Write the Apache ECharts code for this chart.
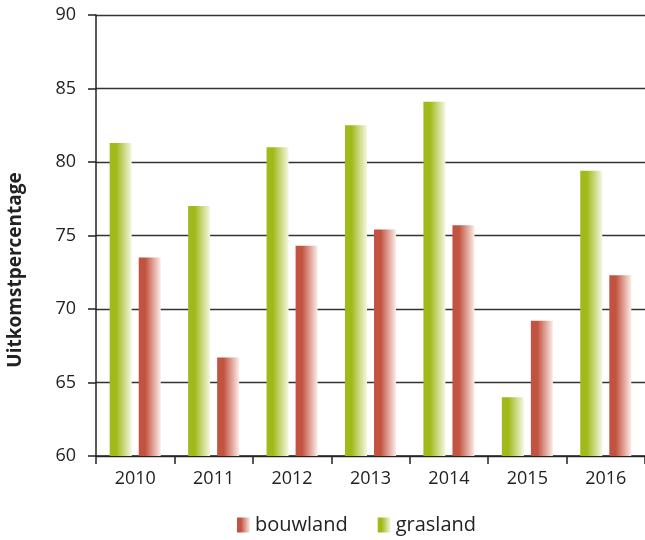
<!DOCTYPE html>
<html>
<head>
<meta charset="utf-8">
<script src="https://cdn.jsdelivr.net/npm/echarts@6/dist/echarts.min.js"></script>
<style>
  html, body { margin: 0; padding: 0; background: #fff; }
  #chart { width: 645px; height: 540px; }
</style>
</head>
<body>
<div id="chart"></div>
<script>
  // data
  var years = ['2010', '2011', '2012', '2013', '2014', '2015', '2016'];
  var grasland = [81.3, 77.0, 81.0, 82.5, 84.1, 64.0, 79.4];
  var bouwland = [73.5, 66.7, 74.3, 75.4, 75.7, 69.2, 72.3];
  var yTicks = [60, 65, 70, 75, 80, 85, 90];

  var font = '"Open Sans"';

  // horizontal fade to white, like the original
  function fade (c, light) {
    return new echarts.graphic.LinearGradient(0, 0, 1, 0, [
      { offset: 0, color: c },
      { offset: 0.3, color: c },
      { offset: 1, color: light }
    ]);
  }

  var myChart = echarts.init(document.getElementById('chart'));
  var option = {
    animation: false,
    textStyle: { fontFamily: font, color: '#222' },
    grid: {
      left: 96,
      top: 15,
      width: 553,
      height: 441
    },
    legend: {
      left: 232,
      top: 510,
      icon: 'rect',
      itemWidth: 13,
      itemHeight: 15,
      itemGap: 30,
      textStyle: { fontSize: 20, color: '#222', fontFamily: font },
      data: ['bouwland', 'grasland']
    },
    xAxis: {
      type: 'category',
      data: years,
      axisLine: { lineStyle: { color: '#222', width: 1.5 } },
      axisTick: { show: true, length: 8, lineStyle: { color: '#222', width: 1.5 } },
      axisLabel: { fontSize: 18, color: '#222', margin: 14, fontFamily: font }
    },
    yAxis: {
      type: 'value',
      min: yTicks[0],
      max: yTicks[yTicks.length - 1],
      interval: 5,
      axisLine: { show: true, lineStyle: { color: '#222', width: 1.5 } },
      axisTick: { show: true, length: 8, lineStyle: { color: '#222', width: 1.5 } },
      axisLabel: { fontSize: 18, color: '#222', margin: 20, fontFamily: font },
      splitLine: { show: true, lineStyle: { color: '#333', width: 1.3 } }
    },
    graphic: [{
      type: 'text',
      x: 6,
      y: 270,
      rotation: Math.PI / 2,
      style: {
        text: 'Uitkomstpercentage',
        font: 'bold 19px ' + font,
        fill: '#222',
        align: 'center',
        verticalAlign: 'top'
      }
    }],
    series: [
      {
        name: 'grasland',
        type: 'bar',
        data: grasland,
        barWidth: 22,
        barGap: '32%',
        itemStyle: { color: fade('#a2b91a', '#f4f7e4') }
      },
      {
        name: 'bouwland',
        type: 'bar',
        data: bouwland,
        barWidth: 22,
        itemStyle: { color: fade('#c25340', '#fcece8') }
      }
    ]
  };
  myChart.setOption(option);
</script>
</body>
</html>
